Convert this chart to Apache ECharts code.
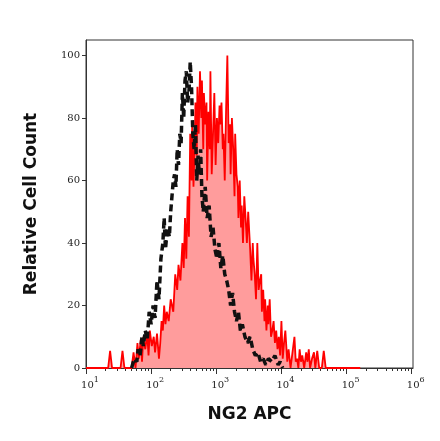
<!DOCTYPE html>
<html><head><meta charset="utf-8">
<script src="https://cdn.jsdelivr.net/npm/echarts@6/dist/echarts.min.js"></script>
<style>html,body{margin:0;padding:0;background:#fff}#c{width:440px;height:441px}</style>
</head><body><div id="c"></div>
<script>
// x values are log10(fluorescence)
const redX = [1.0,1.34,1.37,1.40,1.53,1.56,1.59,1.70,1.73,1.76,1.79,1.81,1.84,1.86,1.88,1.91,1.94,1.96,1.98,2.01,2.04,2.06,2.09,2.12,2.14,2.16,2.18,2.20,2.22,2.24,2.27,2.30,2.32,2.34,2.37,2.40,2.42,2.45,2.48,2.50,2.52,2.54,2.56,2.58,2.60,2.62,2.63,2.65,2.67,2.68,2.70,2.71,2.73,2.75,2.77,2.78,2.80,2.81,2.83,2.85,2.86,2.88,2.90,2.91,2.93,2.95,2.97,2.99,3.01,3.03,3.05,3.06,3.08,3.10,3.11,3.13,3.15,3.17,3.19,3.21,3.22,3.24,3.26,3.28,3.29,3.31,3.33,3.34,3.36,3.38,3.39,3.41,3.43,3.45,3.47,3.49,3.51,3.52,3.54,3.56,3.57,3.59,3.61,3.63,3.65,3.67,3.69,3.70,3.72,3.74,3.75,3.77,3.79,3.80,3.82,3.84,3.86,3.88,3.90,3.92,3.94,3.96,3.98,4.00,4.02,4.04,4.06,4.09,4.11,4.14,4.17,4.20,4.22,4.24,4.26,4.28,4.30,4.32,4.35,4.38,4.40,4.42,4.44,4.47,4.50,4.52,4.55,4.58,4.62,4.65,4.68,5.21,5.24,5.27,6.02];
const redY = [0,0,5.5,0,0,5.5,0,0,5,0,8,3,9,2,10,6,11,4,12,7,10,5,11,3,8,15,12,20,14,18,15,22,20,18,30,25,33,28,40,32,48,35,55,42,75,60,78,58,72,85,68,90,75,95,80,92,70,88,78,85,60,82,70,95,62,75,88,65,80,72,84,78,85,70,75,60,82,100,72,78,62,80,70,55,75,62,58,48,60,45,52,40,55,48,40,50,42,38,28,40,35,30,22,40,25,28,30,18,25,15,22,12,20,14,22,10,12,15,8,12,6,10,4,15,3,8,12,2,6,0,5,10,2,3,0,6,2,4,0,5,2,6,0,3,5,0,5.5,0,0,5.5,0,0];
const blackX = [1.70,1.74,1.78,1.80,1.83,1.86,1.88,1.91,1.94,1.97,2.00,2.03,2.06,2.09,2.12,2.15,2.18,2.20,2.22,2.25,2.28,2.30,2.32,2.34,2.36,2.38,2.40,2.42,2.44,2.46,2.48,2.50,2.52,2.54,2.56,2.58,2.60,2.62,2.64,2.66,2.68,2.70,2.72,2.74,2.76,2.78,2.80,2.83,2.86,2.89,2.92,2.95,2.98,3.01,3.04,3.07,3.10,3.13,3.16,3.19,3.22,3.25,3.28,3.31,3.34,3.37,3.40,3.44,3.48,3.52,3.56,3.60,3.64,3.68,3.72,3.76,3.80,3.85,3.90,3.95,3.98,4.02];
const blackY = [0,3,2,6,4,10,7,12,9,18,14,20,16,28,22,35,40,48,38,45,42,50,55,60,62,58,70,65,75,72,88,80,92,95,85,88,98,90,75,70,78,60,68,62,70,55,50,58,48,52,42,45,38,35,40,32,36,30,28,25,20,24,18,15,18,12,14,10,8,10,6,4,5,2,3,1,3,2,4,1,2,0];
const yTicks = [0,20,40,60,80,100];
const xDecades = [1,2,3,4,5,6];
const xMinor = [];
for (let d=1; d<6; d++) for (let m=2; m<10; m++) xMinor.push(d+Math.log10(m));

const red = redX.map((x,i)=>[x,redY[i]]);
const black = blackX.map((x,i)=>[x,blackY[i]]);
const chart = echarts.init(document.getElementById('c'));
const lab = {fontFamily:'DejaVu Serif',fontSize:10,color:'#222'};
chart.setOption({
  animation:false,
  grid:{left:86,right:27,top:40,bottom:73},
  xAxis:[{type:'value',min:1,max:6.02,
    axisLine:{lineStyle:{color:'#333'}},splitLine:{show:false},
    axisTick:{customValues:xDecades,length:6,lineStyle:{color:'#333'}},
    axisLabel:{customValues:xDecades,margin:8,padding:[0,0,0,8],
      formatter:v=>'{b|10}{s|'+Math.round(v)+'}',
      rich:{b:{...lab,fontSize:10,padding:[4,0,0,0]},s:{...lab,fontSize:8,verticalAlign:'top',padding:[0,0,6,0]}}},
    name:'NG2 APC',nameLocation:'middle',nameGap:38,
    nameTextStyle:{fontFamily:'DejaVu Sans',fontWeight:'bold',fontSize:17,color:'#111'}},
   {type:'value',min:1,max:6.02,position:'bottom',show:true,
    axisLine:{show:false},splitLine:{show:false},axisLabel:{show:false},
    axisTick:{customValues:xMinor,length:3,lineStyle:{color:'#333'}}}],
  yAxis:{type:'value',min:0,max:105,
    axisLine:{show:true,lineStyle:{color:'#333'}},splitLine:{show:false},
    axisTick:{show:true,customValues:yTicks,length:4},
    axisLabel:{customValues:yTicks,...lab,margin:6},
    name:'Relative Cell Count',nameLocation:'middle',nameGap:46,
    nameTextStyle:{fontFamily:'DejaVu Sans',fontWeight:'bold',fontSize:17,color:'#111'}},
  series:[
    {type:'line',data:red,symbol:'none',lineStyle:{color:'#ff0000',width:1.8},
     areaStyle:{color:'#ff9c9c',opacity:1},z:2},
    {type:'line',data:black,symbol:'none',lineStyle:{color:'#111',width:3.5,type:[7,4]},z:3}
  ],
  graphic:[{type:'rect',shape:{x:86,y:40,width:327,height:328},style:{fill:null,stroke:'#333',lineWidth:1},silent:true}]
});
</script></body></html>
